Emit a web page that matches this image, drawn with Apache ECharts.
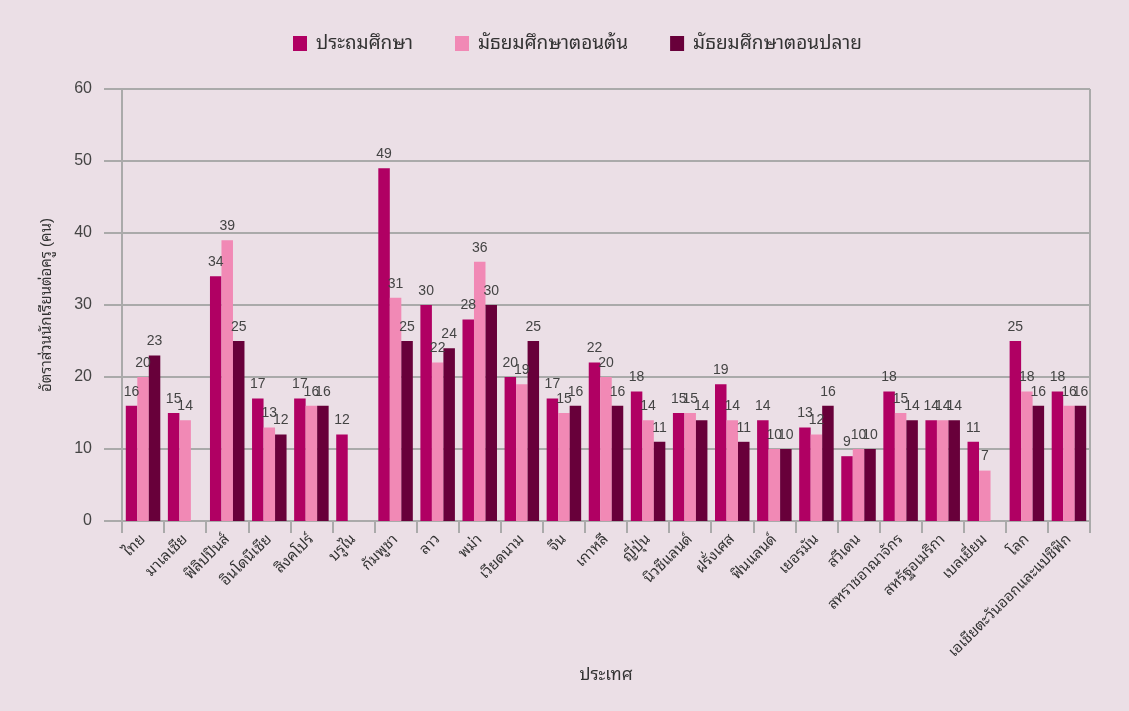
<!DOCTYPE html>
<html>
<head>
<meta charset="utf-8">
<style>
  html, body { margin: 0; padding: 0; background: #ebdfe6; }
  #chart { width: 1129px; height: 711px; }
</style>
<script src="https://cdn.jsdelivr.net/npm/echarts@6/dist/echarts.min.js"></script>
</head>
<body>
<div id="chart"></div>
<script>
// Pupil-teacher ratio by country and education level
const countries = ['ไทย', 'มาเลเซีย', 'ฟิลิปปินส์', 'อินโดนีเซีย', 'สิงคโปร์', 'บรูไน', 'กัมพูชา', 'ลาว', 'พม่า',
  'เวียดนาม', 'จีน', 'เกาหลี', 'ญี่ปุ่น', 'นิวซีแลนด์', 'ฝรั่งเศส', 'ฟินแลนด์', 'เยอรมัน', 'สวีเดน',
  'สหราชอาณาจักร', 'สหรัฐอเมริกา', 'เบลเยี่ยม', 'โลก', 'เอเชียตะวันออกและแปซิฟิก'];
const primary = [16, 15, 34, 17, 17, 12, 49, 30, 28, 20, 17, 22, 18, 15, 19, 14, 13, 9, 18, 14, 11, 25, 18];
const lowerSecondary = [20, 14, 39, 13, 16, null, 31, 22, 36, 19, 15, 20, 14, 15, 14, 10, 12, 10, 15, 14, 7, 18, 16];
const upperSecondary = [23, null, 25, 12, 16, null, 25, 24, 30, 25, 16, 16, 11, 14, 11, 10, 16, 10, 14, 14, null, 16, 16];
const seriesNames = ['ประถมศึกษา', 'มัธยมศึกษาตอนต้น', 'มัธยมศึกษาตอนปลาย'];
const yTicks = [0, 10, 20, 30, 40, 50, 60];

const colors = ['#b00063', '#f189b5', '#68003a'];
const font = '"Liberation Sans", "Noto Sans Thai Looped", "Noto Sans Thai", "Noto Sans", sans-serif';

const chart = echarts.init(document.getElementById('chart'), null, { renderer: 'canvas' });

const makeSeries = (name, data, color) => ({
  name: name,
  type: 'bar',
  data: data,
  barGap: '0%',
  barCategoryGap: '18%',
  itemStyle: { color: color },
  label: {
    show: true,
    position: 'top',
    distance: 7,
    color: '#444',
    fontSize: 14,
    fontFamily: font
  }
});

chart.setOption({
  backgroundColor: '#ebdfe6',
  color: colors,
  textStyle: { fontFamily: font },
  legend: {
    top: 29,
    left: 288,
    itemWidth: 14,
    itemHeight: 15,
    itemGap: 42,
    icon: 'rect',
    textStyle: { fontSize: 19, color: '#333', fontFamily: font, padding: [0, 0, 0, 4] },
    data: seriesNames
  },
  grid: { left: 122, right: 39, top: 89, bottom: 190 },
  xAxis: {
    type: 'category',
    data: countries,
    name: 'ประเทศ',
    nameLocation: 'middle',
    nameGap: 145,
    nameTextStyle: { fontSize: 17, color: '#333' },
    axisLine: { lineStyle: { color: '#aaa', width: 2 } },
    axisTick: { show: true, length: 12, lineStyle: { color: '#aaa', width: 2 } },
    axisLabel: { rotate: 45, fontSize: 15, color: '#333', interval: 0, margin: 16 }
  },
  yAxis: {
    type: 'value',
    min: yTicks[0],
    max: yTicks[yTicks.length - 1],
    interval: 10,
    name: 'อัตราส่วนนักเรียนต่อครู (คน)',
    nameLocation: 'middle',
    nameGap: 68,
    nameTextStyle: { fontSize: 15, color: '#333' },
    axisLine: { show: true, lineStyle: { color: '#aaa', width: 2 } },
    axisTick: { show: true, inside: false, length: 18, lineStyle: { color: '#aaa', width: 2 } },
    axisLabel: { fontSize: 16, color: '#444', margin: 30 },
    splitLine: { show: true, lineStyle: { color: '#aaa', width: 2 } }
  },
  series: [
    makeSeries(seriesNames[0], primary, colors[0]),
    makeSeries(seriesNames[1], lowerSecondary, colors[1]),
    makeSeries(seriesNames[2], upperSecondary, colors[2]),
    {
      // right border of the plot area
      type: 'line',
      data: [],
      markLine: {
        silent: true,
        symbol: 'none',
        label: { show: false },
        lineStyle: { color: '#aaa', width: 2, type: 'solid' },
        data: [[{ x: 1090, y: 89 }, { x: 1090, y: 521 }]]
      }
    }
  ]
});
</script>
</body>
</html>
